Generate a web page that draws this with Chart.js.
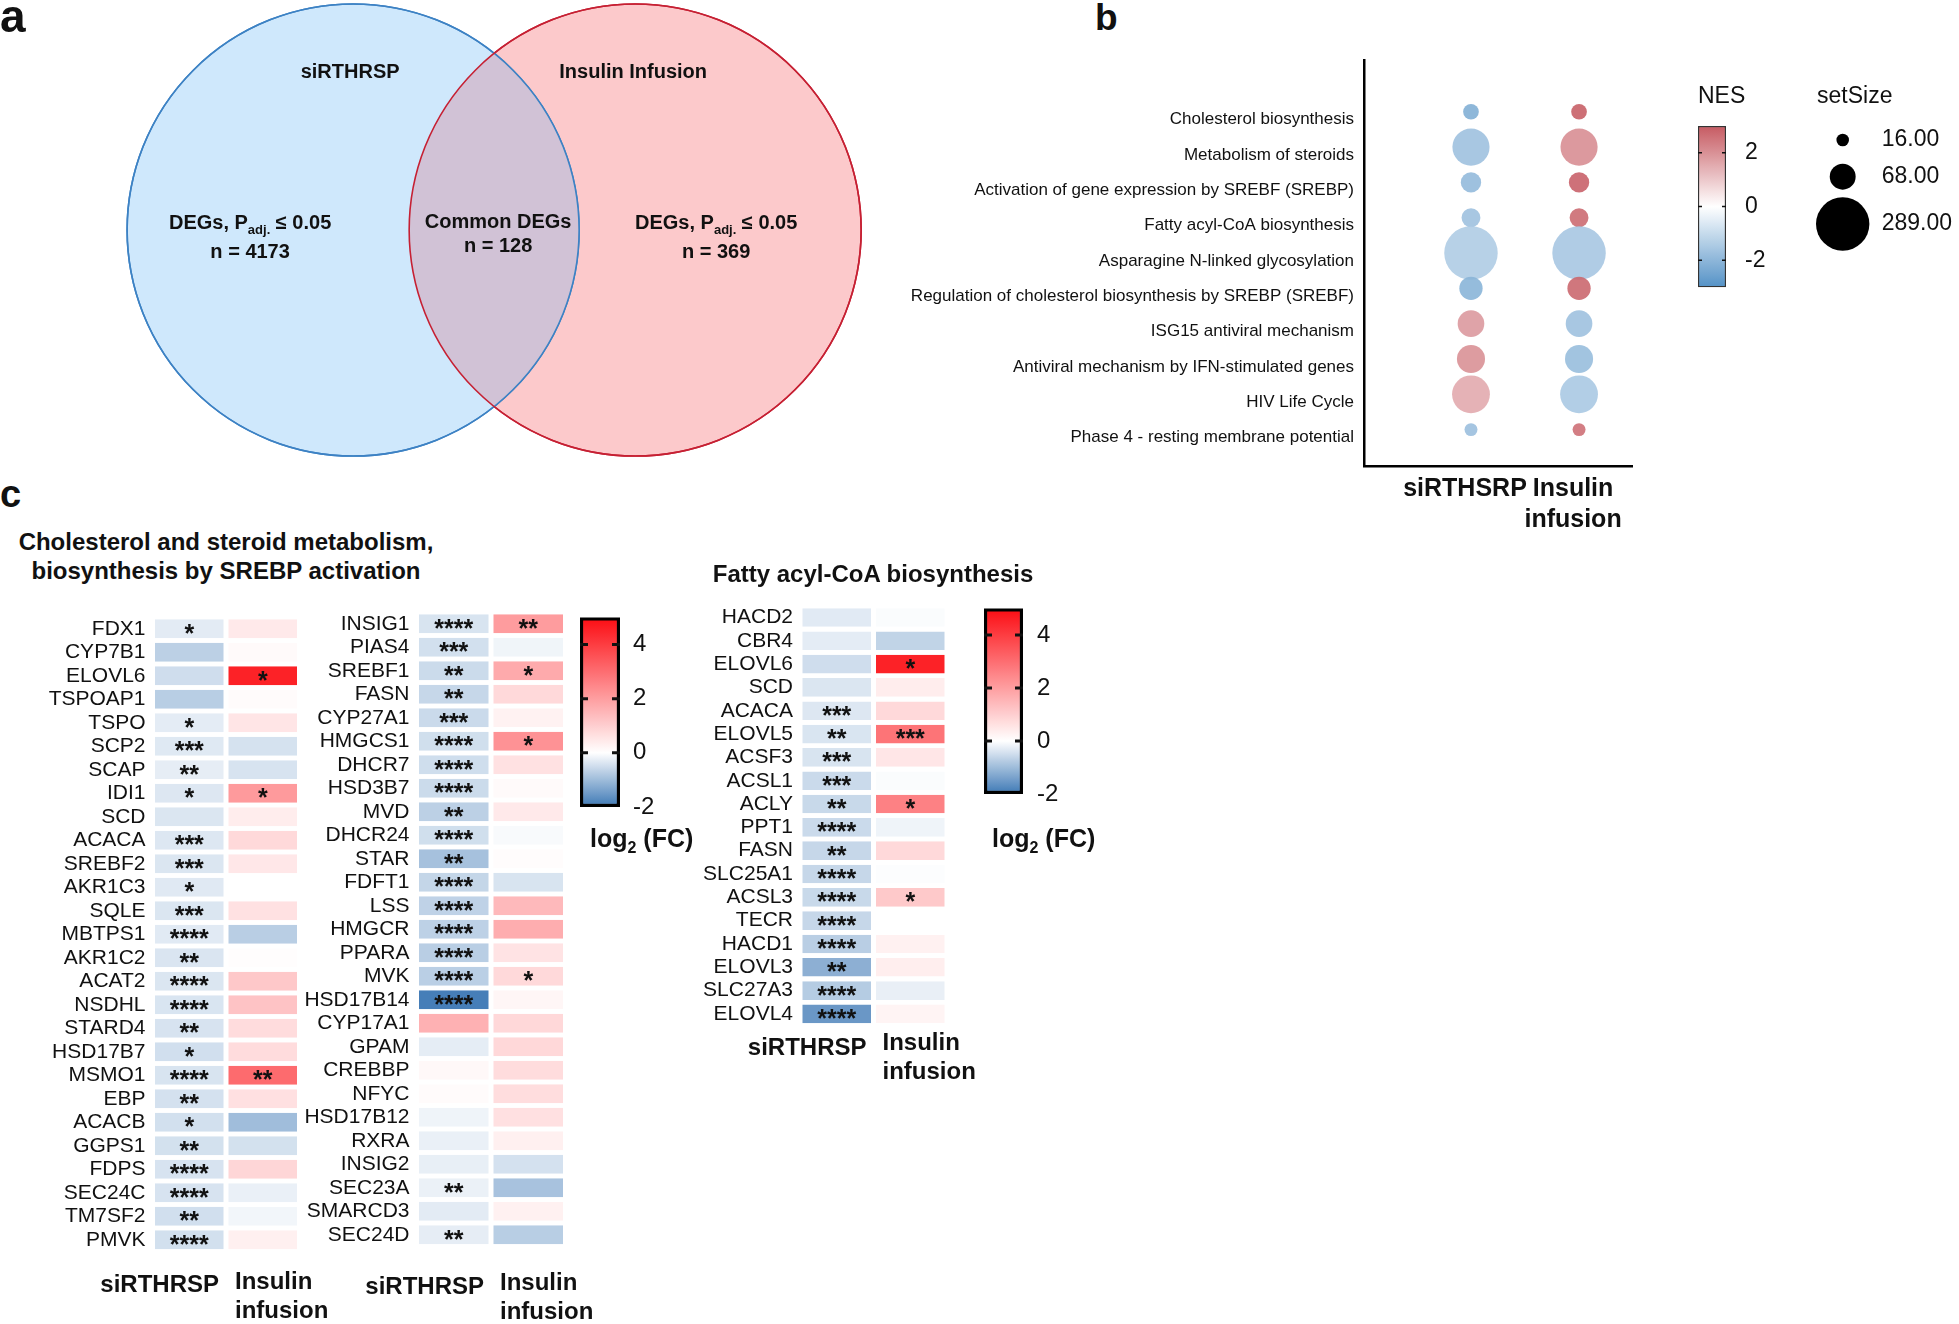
<!DOCTYPE html>
<html><head><meta charset="utf-8"><title>Figure</title>
<script src="https://cdn.jsdelivr.net/npm/chart.js@4.4.1/dist/chart.umd.min.js"></script>
<style>
html,body{margin:0;padding:0;background:#fff;}
#page{position:relative;width:1959px;height:1324px;overflow:hidden;background:#fff;font-family:"Liberation Sans",Arial,Helvetica,sans-serif;color:#111;}
#page canvas{position:absolute;}
.t{position:absolute;font-weight:bold;white-space:nowrap;line-height:1;}
</style></head><body>
<div id="page">
  <canvas id="venn" width="900" height="470" style="left:0;top:0"></canvas>
  <canvas id="gsea" width="760" height="500" style="left:900px;top:40px"></canvas>
  <canvas id="nesbar" width="279" height="260" style="left:1680px;top:60px"></canvas>
  <canvas id="hmA" width="340" height="734" style="left:0;top:590px"></canvas>
  <canvas id="hmB" width="380" height="734" style="left:240px;top:590px"></canvas>
  <canvas id="cbA" width="160" height="280" style="left:560px;top:590px"></canvas>
  <canvas id="hmF" width="360" height="520" style="left:640px;top:580px"></canvas>
  <canvas id="cbF" width="160" height="300" style="left:960px;top:580px"></canvas>
  <div class="t" style="left:0;top:-7px;font-size:46px">a</div>
  <div class="t" style="left:1095px;top:-1px;font-size:37px">b</div>
  <div class="t" style="left:0;top:475px;font-size:38px">c</div>
  <div class="t" style="left:0;top:527px;width:452px;text-align:center;font-size:24px;line-height:29px">Cholesterol and steroid metabolism,<br>biosynthesis by SREBP activation</div>
  <div class="t" style="left:673px;top:562px;width:400px;text-align:center;font-size:24px">Fatty acyl-CoA biosynthesis</div>
</div>
<script>
// ===================== DATA =====================
// Panel a – Venn
const vennSets = ['siRTHRSP', 'Insulin Infusion'];
const vennCounts = [4173, 128, 369];           // only left, common, only right

// Panel b – GSEA dot plot
const pathways = [
  'Cholesterol biosynthesis',
  'Metabolism of steroids',
  'Activation of gene expression by SREBF (SREBP)',
  'Fatty acyl-CoA biosynthesis',
  'Asparagine N-linked glycosylation',
  'Regulation of cholesterol biosynthesis by SREBP (SREBF)',
  'ISG15 antiviral mechanism',
  'Antiviral mechanism by IFN-stimulated genes',
  'HIV Life Cycle',
  'Phase 4 - resting membrane potential'
];
const gseaGroups = ['siRTHSRP', 'Insulin infusion'];
const setSize = [25, 140, 42, 36, 290, 55, 72, 80, 145, 17];
const nesSi  = [-2.2, -1.7, -1.9, -1.7, -1.4, -2.05, 1.85, 2.0, 1.55, -1.75];
const nesIns = [2.9, 2.05, 2.85, 2.7, -1.55, 2.75, -1.7, -1.8, -1.5, 2.6];
const nesRange = [-3, 3];
const nesTicks = [-2, 0, 2];
const sizeLegend = [16, 68, 289];

// Panel c – heatmaps (log2 FC)
const groupsC = ['siRTHRSP', 'Insulin infusion'];
const fcRange = [-2, 5];
const fcTicks = [-2, 0, 2, 4];

const genesA = ['FDX1','CYP7B1','ELOVL6','TSPOAP1','TSPO','SCP2','SCAP','IDI1','SCD','ACACA','SREBF2','AKR1C3','SQLE','MBTPS1','AKR1C2','ACAT2','NSDHL','STARD4','HSD17B7','MSMO1','EBP','ACACB','GGPS1','FDPS','SEC24C','TM7SF2','PMVK'];
const fcSiA  = [-0.29,-0.69,-0.5,-0.73,-0.28,-0.33,-0.26,-0.35,-0.37,-0.35,-0.37,-0.32,-0.37,-0.31,-0.38,-0.37,-0.39,-0.41,-0.47,-0.4,-0.44,-0.46,-0.45,-0.41,-0.41,-0.47,-0.46];
const fcInsA = [0.45,0.1,4.55,0.08,0.53,-0.43,-0.41,2.08,0.38,0.78,0.49,0.0,0.62,-0.72,0.04,1.13,1.23,0.72,0.72,3.05,0.64,-0.98,-0.45,0.84,-0.22,-0.13,0.31];
const sigSiA  = ['*','','','','*','***','**','*','','***','***','*','***','****','**','****','****','**','*','****','**','*','**','****','****','**','****'];
const sigInsA = ['','','*','','','','','*','','','','','','','','','','','','**','','','','','','',''];

const genesB = ['INSIG1','PIAS4','SREBF1','FASN','CYP27A1','HMGCS1','DHCR7','HSD3B7','MVD','DHCR24','STAR','FDFT1','LSS','HMGCR','PPARA','MVK','HSD17B14','CYP17A1','GPAM','CREBBP','NFYC','HSD17B12','RXRA','INSIG2','SEC23A','SMARCD3','SEC24D'];
const fcSiB  = [-0.40,-0.46,-0.54,-0.59,-0.55,-0.48,-0.49,-0.54,-0.69,-0.48,-0.92,-0.61,-0.66,-0.68,-0.72,-0.71,-1.91,1.6,-0.27,0.14,0.08,-0.16,-0.22,-0.24,-0.21,-0.29,-0.26];
const fcInsB = [2.04,-0.15,1.75,0.78,0.27,2.24,0.62,0.1,0.45,-0.07,0.06,-0.4,1.44,1.69,0.58,0.78,0.19,0.8,0.8,0.72,0.7,0.64,0.31,-0.44,-0.9,0.29,-0.73];
const sigSiB  = ['****','***','**','**','***','****','****','****','**','****','**','****','****','****','****','****','****','','','','','','','','**','','**'];
const sigInsB = ['**','','*','','','*','','','','','','','','','','*','','','','','','','','','','',''];

const genesF = ['HACD2','CBR4','ELOVL6','SCD','ACACA','ELOVL5','ACSF3','ACSL1','ACLY','PPT1','FASN','SLC25A1','ACSL3','TECR','HACD1','ELOVL3','SLC27A3','ELOVL4'];
const fcSiF  = [-0.31,-0.28,-0.5,-0.37,-0.35,-0.39,-0.40,-0.55,-0.57,-0.55,-0.59,-0.59,-0.57,-0.59,-0.72,-1.18,-0.76,-1.54];
const fcInsF = [-0.05,-0.64,4.55,0.38,0.78,2.86,0.51,-0.05,2.59,-0.16,0.78,-0.03,1.11,0.0,0.29,0.35,-0.23,0.23];
const sigSiF  = ['','','','','***','**','***','***','**','****','**','****','****','****','****','**','****','****'];
const sigInsF = ['','','*','','','***','','','*','','','','*','','','','',''];

// ===================== HELPERS =====================
const FONT = '"Liberation Sans", Arial, Helvetica, sans-serif';
Chart.defaults.font.family = FONT;
Chart.defaults.color = '#111';

function mixWhite(c, t, a) {
  t = Math.max(0, Math.min(1, t));
  const r = Math.round(255 + (c[0] - 255) * t), g = Math.round(255 + (c[1] - 255) * t), b = Math.round(255 + (c[2] - 255) * t);
  return a === undefined ? `rgb(${r},${g},${b})` : `rgba(${r},${g},${b},${a})`;
}
const FC_RED = [252, 12, 18], FC_BLUE = [61, 120, 181];
function fcColor(v) { return v >= 0 ? mixWhite(FC_RED, v / fcRange[1]) : mixWhite(FC_BLUE, v / fcRange[0]); }
const NES_RED = [198, 90, 98], NES_BLUE = [84, 146, 198];
function nesColor(v, a) { return v >= 0 ? mixWhite(NES_RED, v / nesRange[1], a) : mixWhite(NES_BLUE, v / nesRange[0], a); }
function sizeToRadius(s) { return 1.57 * Math.sqrt(s); }

function richText(ctx, parts, x, y, align) {
  let w = 0;
  const ws = parts.map(p => { ctx.font = `bold ${p[1]}px ${FONT}`; const m = ctx.measureText(p[0]).width; w += m; return m; });
  let cx = align === 'left' ? x : x - w / 2;
  const base = y + 0.36 * parts[0][1];
  ctx.textAlign = 'left'; ctx.textBaseline = 'alphabetic';
  parts.forEach((p, i) => { ctx.font = `bold ${p[1]}px ${FONT}`; ctx.fillText(p[0], cx, base + p[2]); cx += ws[i]; });
}
const noUI = { legend: { display: false }, tooltip: { enabled: false } };

// ===================== PANEL a : VENN =====================
const VENN = { r: 226, fill: ['#cfe8fc', '#fcc9cb'], stroke: ['#3d82c4', '#c62033'], overlap: '#d1c2d6', lw: 1.6 };
const vennPlugin = {
  id: 'vennExtras',
  afterDatasetsDraw(chart) {
    const ctx = chart.ctx;
    const p = [0, 1].map(i => chart.getDatasetMeta(i).data[0]);
    ctx.save();
    ctx.beginPath(); ctx.arc(p[0].x, p[0].y, VENN.r, 0, Math.PI * 2); ctx.clip();
    ctx.beginPath(); ctx.arc(p[1].x, p[1].y, VENN.r, 0, Math.PI * 2);
    ctx.fillStyle = VENN.overlap; ctx.fill();
    ctx.restore();
    ctx.save();
    p.forEach((q, i) => {
      ctx.beginPath(); ctx.arc(q.x, q.y, VENN.r, 0, Math.PI * 2);
      ctx.strokeStyle = VENN.stroke[i]; ctx.lineWidth = VENN.lw; ctx.stroke();
    });
    ctx.fillStyle = '#111';
    ctx.font = `bold 20px ${FONT}`; ctx.textAlign = 'center'; ctx.textBaseline = 'middle';
    ctx.fillText(vennSets[0], p[0].x - 3, p[0].y - 158);
    ctx.fillText(vennSets[1], p[1].x - 2, p[1].y - 158);
    const deg = [['DEGs, P', 20, 0], ['adj.', 13, 5], [' \u2264 0.05', 20, 0]];
    richText(ctx, deg, p[0].x - 103, p[0].y - 8);
    richText(ctx, deg, p[1].x + 81, p[1].y - 8);
    ctx.font = `bold 20px ${FONT}`; ctx.textAlign = 'center'; ctx.textBaseline = 'middle';
    const mid = (p[0].x + p[1].x) / 2 + 4;
    ctx.fillText('Common DEGs', mid, p[0].y - 8);
    ctx.fillText('n = ' + vennCounts[1], mid, p[0].y + 16);
    ctx.fillText('n = ' + vennCounts[0], p[0].x - 103, p[0].y + 22);
    ctx.fillText('n = ' + vennCounts[2], p[1].x + 81, p[1].y + 22);
    ctx.restore();
  }
};
new Chart(document.getElementById('venn'), {
  type: 'bubble',
  data: { datasets: vennSets.map((s, i) => ({
    label: s, data: [{ x: i, y: 0 }], radius: VENN.r,
    backgroundColor: VENN.fill[i], borderColor: VENN.stroke[i], borderWidth: VENN.lw, clip: false
  })) },
  options: {
    responsive: false, animation: false, events: [],
    layout: { autoPadding: false, padding: { bottom: 10 } },
    scales: { x: { type: 'linear', display: false, min: -1.252, max: 1.939 }, y: { type: 'linear', display: false, min: -1, max: 1 } },
    plugins: noUI
  },
  plugins: [vennPlugin]
});

// ===================== PANEL b : GSEA BUBBLES =====================
new Chart(document.getElementById('gsea'), {
  type: 'bubble',
  data: { datasets: gseaGroups.map((g, gi) => {
    const nes = gi === 0 ? nesSi : nesIns;
    return {
      label: g,
      data: pathways.map((p, i) => ({ x: gi, y: i, r: sizeToRadius(setSize[i]) })),
      backgroundColor: nes.map(v => nesColor(v, 0.9)),
      borderWidth: 0, clip: false
    };
  }) },
  options: {
    responsive: false, animation: false, events: [],
    layout: { autoPadding: false, padding: { top: 20, right: 28, left: 0, bottom: 0 } },
    scales: {
      x: {
        type: 'linear', min: -0.99, max: 1.49,
        afterBuildTicks: s => { s.ticks = gseaGroups.map((g, i) => ({ value: i })); },
        grid: { display: false, drawTicks: false },
        border: { display: true, color: '#000', width: 2.5 },
        ticks: { autoSkip: false, maxRotation: 0, padding: 8, labelOffset: -6, color: '#111',
          font: { size: 25, weight: 'bold', lineHeight: 1.24 },
          callback: v => (gseaGroups[v] !== undefined ? gseaGroups[v].split(' ') : '') },
        afterFit: s => { s.height = 74; }
      },
      y: {
        type: 'linear', reverse: true, min: -1.46, max: 10.03,
        afterBuildTicks: s => { s.ticks = pathways.map((p, i) => ({ value: i })); },
        grid: { display: false, drawTicks: false },
        border: { display: true, color: '#000', width: 2.5 },
        ticks: { autoSkip: false, padding: 10, labelOffset: 8, color: '#111', font: { size: 17 },
          callback: v => pathways[v] },
        afterFit: s => { s.width = 464; }
      }
    },
    plugins: noUI
  }
});

// ===================== COLOUR BARS =====================
function gradientFor(chart, cfg) {
  const a = chart.chartArea; if (!a) return 'transparent';
  const y = chart.scales.y;
  const y0 = y.getPixelForValue(cfg.range[0]), y1 = y.getPixelForValue(cfg.range[1]);
  const g = chart.ctx.createLinearGradient(0, y0, 0, y1);
  const span = cfg.range[1] - cfg.range[0];
  for (let v = cfg.range[0]; v <= cfg.range[1] + 1e-9; v += 0.25) {
    g.addColorStop(Math.min(1, (v - cfg.range[0]) / span), cfg.colorFn(v));
  }
  return g;
}
function tickMarks(len, lw) {
  return { id: 'tickMarks', afterDatasetsDraw(chart) {
    const a = chart.chartArea, y = chart.scales.y, ctx = chart.ctx;
    ctx.save(); ctx.strokeStyle = '#111'; ctx.lineWidth = lw;
    y.ticks.forEach(t => {
      const py = y.getPixelForValue(t.value);
      if (py <= a.top + 1 || py >= a.bottom - 1) return;
      ctx.beginPath();
      ctx.moveTo(a.left, py); ctx.lineTo(a.left + len, py);
      ctx.moveTo(a.right - len, py); ctx.lineTo(a.right, py);
      ctx.stroke();
    });
    ctx.restore();
  } };
}
function fcLabel(dx, dy) {
  return { id: 'fcLabel', afterDraw(chart) {
    const a = chart.chartArea, ctx = chart.ctx;
    ctx.save(); ctx.fillStyle = '#111';
    richText(ctx, [['log', 25, 0], ['2', 16, 6], [' (FC)', 25, 0]], a.left + dx, a.bottom + dy, 'left');
    ctx.restore();
  } };
}
const nesLegend = { id: 'nesLegend', afterDraw(chart) {
  const a = chart.chartArea, ctx = chart.ctx;
  ctx.save();
  ctx.fillStyle = '#111'; ctx.font = `23px ${FONT}`; ctx.textBaseline = 'middle'; ctx.textAlign = 'left';
  ctx.fillText('NES', a.left, a.top - 29);
  ctx.fillText('setSize', a.left + 119, a.top - 29);
  const offs = [14, 50.7, 98];
  sizeLegend.forEach((s, i) => {
    const y = a.top + offs[i];
    ctx.beginPath(); ctx.arc(a.left + 144.7, y, sizeToRadius(s), 0, Math.PI * 2);
    ctx.fillStyle = '#000'; ctx.fill();
    ctx.fillStyle = '#111'; ctx.fillText(s.toFixed(2), a.left + 183.7, y);
  });
  ctx.restore();
} };

function colorbarChart(id, cfg) {
  return new Chart(document.getElementById(id), {
    type: 'bar',
    data: { labels: [''], datasets: [{
      data: [cfg.range],
      backgroundColor: c => gradientFor(c.chart, cfg),
      borderColor: cfg.borderColor, borderWidth: cfg.borderWidth, borderSkipped: false,
      barPercentage: 1, categoryPercentage: 1
    }] },
    options: {
      responsive: false, animation: false, events: [],
      layout: { padding: { left: cfg.left, top: cfg.top, bottom: cfg.bottom, right: 0 } },
      scales: {
        x: { display: false },
        y: {
          position: 'right', min: cfg.range[0], max: cfg.range[1],
          afterBuildTicks: s => { s.ticks = cfg.ticks.map(v => ({ value: v })); },
          grid: { display: false, drawTicks: false }, border: { display: false },
          ticks: { padding: cfg.pad, color: '#111', font: { size: cfg.fontSize } },
          afterFit: s => { s.width = cfg.axisW; }
        }
      },
      plugins: noUI
    },
    plugins: cfg.extra
  });
}
colorbarChart('nesbar', { range: nesRange, ticks: nesTicks, colorFn: v => nesColor(v), borderColor: '#333', borderWidth: 1.5,
  left: 18, top: 66, bottom: 20, axisW: 233, pad: 19, fontSize: 23, extra: [tickMarks(4, 1.5), nesLegend] });
colorbarChart('cbA', { range: fcRange, ticks: fcTicks, colorFn: fcColor, borderColor: '#000', borderWidth: 3.5,
  left: 20, top: 24, bottom: 63, axisW: 100, pad: 13, fontSize: 24, extra: [tickMarks(8, 3), fcLabel(10, 31)] });
colorbarChart('cbF', { range: fcRange, ticks: fcTicks, colorFn: fcColor, borderColor: '#000', borderWidth: 3.5,
  left: 24, top: 26, bottom: 86, axisW: 97, pad: 14, fontSize: 24, extra: [tickMarks(8, 3), fcLabel(8, 44)] });

// ===================== PANEL c : HEATMAPS =====================
const starsPlugin = { id: 'stars', afterDatasetsDraw(chart) {
  const ctx = chart.ctx;
  ctx.save(); ctx.fillStyle = '#111'; ctx.font = `bold 25px ${FONT}`; ctx.textAlign = 'center'; ctx.textBaseline = 'middle';
  chart.data.datasets.forEach((ds, di) => {
    chart.getDatasetMeta(di).data.forEach((el, j) => {
      const s = ds.stars[j]; if (!s) return;
      ctx.fillText(s, (el.x + el.base) / 2, el.y + 6);
    });
  });
  ctx.restore();
} };
const colLabelsPlugin = { id: 'colLabels', afterDraw(chart, args, opts) {
  const ctx = chart.ctx, a = chart.chartArea;
  const boundary = chart.scales.x.getPixelForValue(1);
  ctx.save(); ctx.fillStyle = '#111'; ctx.font = `bold 24px ${FONT}`; ctx.textBaseline = 'middle';
  ctx.textAlign = 'right';
  ctx.fillText(groupsC[0], boundary - 7, a.bottom + opts.dy0);
  ctx.textAlign = 'left';
  groupsC[1].split(' ').forEach((l, k) => ctx.fillText(l, boundary + 9, a.bottom + opts.dy1 + k * 29.5));
  ctx.restore();
} };

function heatmap(id, genes, fcSi, fcIns, sigSi, sigIns, geo) {
  return new Chart(document.getElementById(id), {
    type: 'bar',
    data: {
      labels: genes,
      datasets: [
        { label: groupsC[0], data: fcSi.map(() => [0, 1]), backgroundColor: fcSi.map(fcColor), stars: sigSi },
        { label: groupsC[1], data: fcIns.map(() => [1, 2]), backgroundColor: fcIns.map(fcColor), stars: sigIns }
      ]
    },
    options: {
      indexAxis: 'y', responsive: false, animation: false, events: [],
      layout: { padding: { top: geo.top, right: geo.right, bottom: geo.bottom, left: 0 } },
      datasets: { bar: { grouped: false, barPercentage: 0.8, categoryPercentage: 1, borderColor: '#fff',
        borderWidth: { left: 2.5, right: 2.5, top: 0, bottom: 0 }, borderSkipped: false } },
      scales: {
        x: { type: 'linear', display: false, min: 0, max: 2 },
        y: { type: 'category', grid: { display: false, drawTicks: false }, border: { display: false },
          ticks: { autoSkip: false, padding: 7, color: '#111', font: { size: 21 } },
          afterFit: s => { s.width = geo.left; } }
      },
      plugins: Object.assign({ colLabels: { dy0: geo.dy0, dy1: geo.dy1 } }, noUI)
    },
    plugins: [starsPlugin, colLabelsPlugin]
  });
}
heatmap('hmA', genesA, fcSiA, fcInsA, sigSiA, sigInsA, { left: 152.5, top: 27, right: 40.5, bottom: 72.5, dy0: 33.5, dy1: 30.5 });
heatmap('hmB', genesB, fcSiB, fcInsB, sigSiB, sigInsB, { left: 176.5, top: 22, right: 54.5, bottom: 77.5, dy0: 40.5, dy1: 36.5 });
heatmap('hmF', genesF, fcSiF, fcInsF, sigSiF, sigInsF, { left: 160, top: 25.8, right: 53, bottom: 74.4, dy0: 22.4, dy1: 17.7 });
</script>
</body></html>
